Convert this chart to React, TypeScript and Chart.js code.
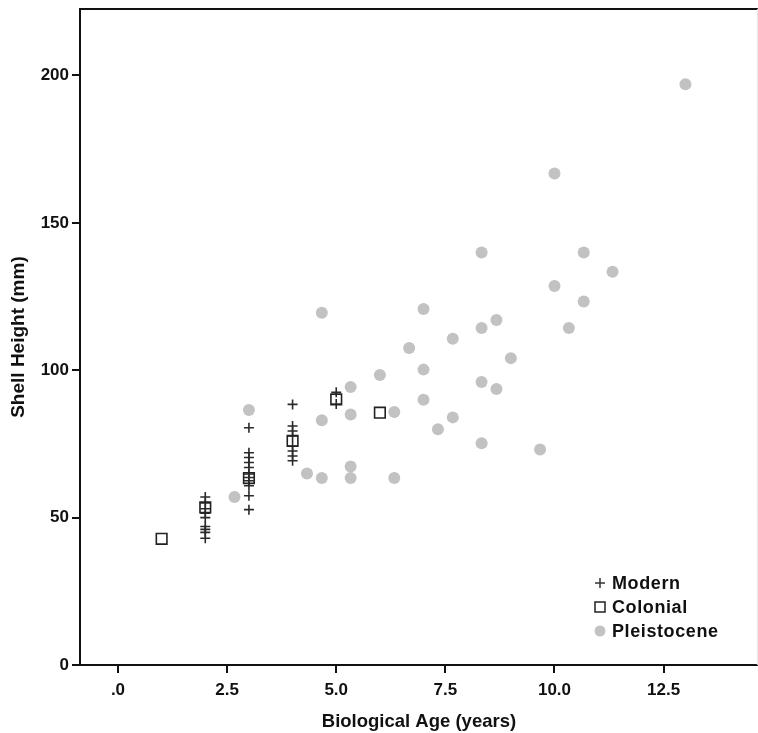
import React, { useEffect, useRef } from "react";
import { Chart, registerables } from "chart.js";

Chart.register(...registerables);

// Modern (crosses)
const modernAge = [2, 2, 2, 2, 2, 2, 2, 2, 2, 3, 3, 3, 3, 3, 3, 3, 3, 3, 3, 3, 4, 4, 4, 4, 4, 4, 4, 4, 5, 5];
const modernHeight = [57, 55, 53, 51.5, 50, 47, 46, 45, 43, 80.5, 72, 70.4, 68.7, 67, 64.8, 63.6, 62.5, 60.8, 57.4, 52.7, 88.4, 81.1, 79.4, 77.7, 74.3, 72.6, 70.9, 69.3, 92.5, 88.5];

// Colonial (squares)
const colonialAge = [1, 2, 3, 4, 5, 6];
const colonialHeight = [42.8, 53.5, 63.4, 76, 90.1, 85.6];

// Pleistocene (circles)
const pleistoceneAge = [2.67, 3, 4.33, 4.67, 4.67, 4.67, 5.33, 5.33, 5.33, 5.33, 6, 6.33, 6.33, 6.67, 7, 7, 7, 7.33, 7.67, 7.67, 8.33, 8.33, 8.33, 8.33, 8.67, 8.67, 9, 9.67, 10, 10, 10.33, 10.67, 10.67, 11.33, 13];
const pleistoceneHeight = [57, 86.5, 65, 119.5, 83, 63.4, 94.3, 85, 67.3, 63.4, 98.4, 85.8, 63.4, 107.5, 120.8, 100.2, 90, 80, 110.7, 84, 139.9, 114.3, 96, 75.2, 117, 93.6, 104.1, 73.1, 166.7, 128.6, 114.3, 139.9, 123.3, 133.4, 197];

const xTicks = [0, 2.5, 5, 7.5, 10, 12.5];
const yTicks = [0, 50, 100, 150, 200];
const legendLabels = ["Modern", "Colonial", "Pleistocene"];

const toPoints = (xs: number[], ys: number[]) => xs.map((x, i) => ({ x, y: ys[i] }));

const FONT = "'Liberation Sans', Arial, sans-serif";
const CANVAS_W = 767;

export default function App() {
  const ref = useRef<HTMLCanvasElement | null>(null);

  useEffect(() => {
    if (!ref.current) return;

    const framePlugin = {
      id: "frame",
      afterDatasetsDraw(chart: any) {
        const { ctx, chartArea } = chart;
        ctx.save();
        ctx.strokeStyle = "#111";
        ctx.lineWidth = 2;
        ctx.beginPath();
        ctx.moveTo(chartArea.left, chartArea.top);
        ctx.lineTo(chartArea.right, chartArea.top);
        ctx.stroke();
        ctx.strokeStyle = "#e6e6e6";
        ctx.lineWidth = 1;
        ctx.beginPath();
        ctx.moveTo(chartArea.right - 0.5, chartArea.top);
        ctx.lineTo(chartArea.right - 0.5, chartArea.bottom);
        ctx.stroke();

        // legend
        const x0 = 600;
        const ys = [583, 607, 631];
        ctx.font = `bold 18px ${FONT}`;
        try {
          (ctx as any).letterSpacing = "0.6px";
        } catch (e) {}
        ctx.textBaseline = "middle";
        ctx.textAlign = "left";
        ys.forEach((y, i) => {
          if (i === 0) {
            ctx.strokeStyle = "#333";
            ctx.lineWidth = 1.5;
            ctx.beginPath();
            ctx.moveTo(x0 - 5, y);
            ctx.lineTo(x0 + 5, y);
            ctx.moveTo(x0, y - 5);
            ctx.lineTo(x0, y + 5);
            ctx.stroke();
          } else if (i === 1) {
            ctx.strokeStyle = "#222";
            ctx.lineWidth = 1.5;
            ctx.strokeRect(x0 - 5, y - 5, 10, 10);
          } else {
            ctx.fillStyle = "#c2c2c2";
            ctx.beginPath();
            ctx.arc(x0, y, 5.5, 0, Math.PI * 2);
            ctx.fill();
          }
          ctx.fillStyle = "#111";
          ctx.fillText(legendLabels[i], x0 + 12, y + 1);
        });
        ctx.restore();
      },
    };

    const chart = new Chart(ref.current, {
      type: "scatter",
      data: {
        datasets: [
          {
            label: legendLabels[0],
            data: toPoints(modernAge, modernHeight),
            pointStyle: "cross",
            radius: 5,
            borderColor: "#2a2a2a",
            backgroundColor: "#2a2a2a",
            borderWidth: 1.6,
            order: 1,
          },
          {
            label: legendLabels[1],
            data: toPoints(colonialAge, colonialHeight),
            pointStyle: "rect",
            radius: 7.5,
            borderColor: "#222",
            backgroundColor: "rgba(0,0,0,0)",
            borderWidth: 1.6,
            order: 0,
          },
          {
            label: legendLabels[2],
            data: toPoints(pleistoceneAge, pleistoceneHeight),
            pointStyle: "circle",
            radius: 6,
            borderWidth: 0,
            borderColor: "#c2c2c2",
            backgroundColor: "#c2c2c2",
            order: 2,
          },
        ],
      },
      options: {
        animation: false,
        responsive: false,
        layout: { padding: { top: 7, right: 1, left: 0, bottom: 0 } },
        plugins: { legend: { display: false }, tooltip: { enabled: false } },
        scales: {
          x: {
            type: "linear",
            min: -0.87,
            max: 14.66,
            afterBuildTicks: (scale: any) => {
              scale.ticks = xTicks.map((v) => ({ value: v }));
            },
            afterFit: (scale: any) => {
              scale.height = 68;
              scale.paddingLeft = 0;
              scale.paddingRight = 0;
            },
            grid: { drawOnChartArea: false, drawTicks: true, tickLength: 8, color: "#111", lineWidth: 2 },
            border: { display: true, color: "#111", width: 2 },
            ticks: {
              color: "#111",
              padding: 7,
              font: { family: FONT, weight: "bold", size: 17 },
              callback: (v: any) => (v === 0 ? ".0" : Number(v).toFixed(1)),
            },
            title: {
              display: true,
              text: "Biological Age (years)",
              color: "#111",
              font: { family: FONT, weight: "bold", size: 18.5 },
              padding: { top: 0, bottom: 0 },
            },
          },
          y: {
            type: "linear",
            min: 0,
            max: 222.5,
            afterBuildTicks: (scale: any) => {
              scale.ticks = yTicks.map((v) => ({ value: v }));
            },
            afterFit: (scale: any) => {
              scale.width = 80;
              scale.paddingTop = 0;
              scale.paddingBottom = 0;
            },
            grid: { drawOnChartArea: false, drawTicks: true, tickLength: 8, color: "#111", lineWidth: 2 },
            border: { display: true, color: "#111", width: 2 },
            ticks: {
              color: "#111",
              padding: 3,
              font: { family: FONT, weight: "bold", size: 17 },
            },
            title: {
              display: true,
              text: "Shell Height (mm)",
              color: "#111",
              font: { family: FONT, weight: "bold", size: 19 },
              padding: { top: 7, bottom: 0 },
            },
          },
        },
      },
      plugins: [framePlugin],
    });

    return () => chart.destroy();
  }, []);

  return (
    <div style={{ position: "absolute", left: 0, top: 0, width: 758, height: 733, overflow: "hidden", background: "#fff" }}>
      <canvas ref={ref} width={CANVAS_W} height={733} style={{ display: "block", width: CANVAS_W, height: 733 }} />
    </div>
  );
}
